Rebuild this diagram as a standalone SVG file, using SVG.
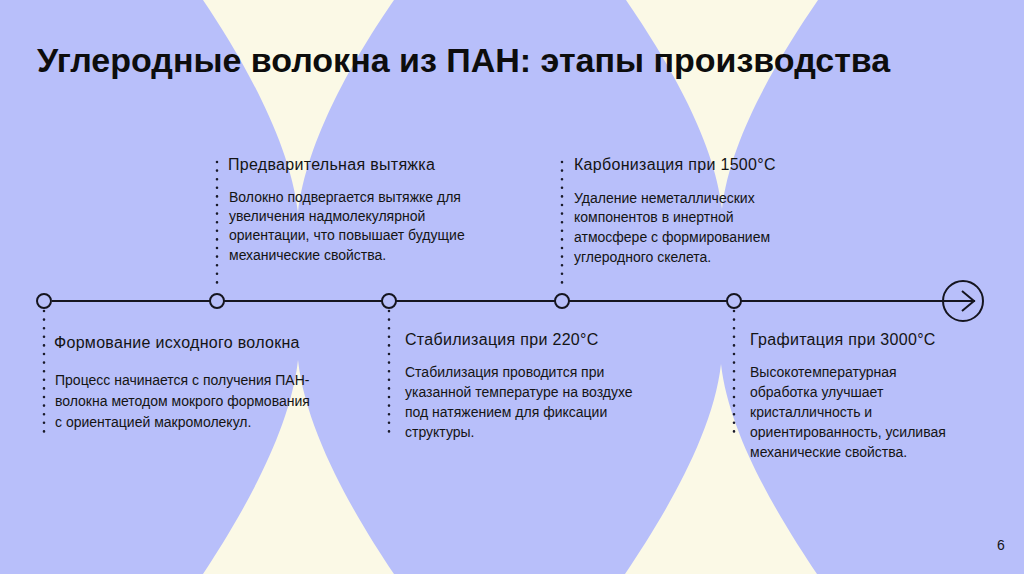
<svg xmlns="http://www.w3.org/2000/svg" width="1024" height="574" viewBox="0 0 1024 574">
<style>
.cream{fill:#fbf9e6}
.title{font-family:"Liberation Sans",Arial,sans-serif;font-weight:bold;font-size:34px;fill:#0d0d0d}
.h{font-family:"Liberation Sans",Arial,sans-serif;font-size:16px;letter-spacing:0.3px;fill:#141414}
.b{font-family:"Liberation Sans",Arial,sans-serif;font-size:14px;fill:#141414}
.dot{stroke:#1a1a2a;stroke-width:2.6;stroke-dasharray:0 8.6;stroke-linecap:round;fill:none}
.node{fill:#b8bffa;stroke:#15151f;stroke-width:2}
.line{stroke:#15151f;stroke-width:2;fill:none}
.pg{font-family:"Liberation Sans",Arial,sans-serif;font-size:14px;fill:#141414}
</style>
<g id="background">
<rect width="1024" height="574" fill="#b8bffa"/>
<path class="cream" d="M203,0 C240,55 290,140 298,213 C306,140 356,55 394,0 Z"/>
<path class="cream" d="M626,0 C663,54 714,137 722,209 C730,137 781,54 818,0 Z"/>
<path class="cream" d="M203,574 C240,518 290,433 298,360 C306,433 356,518 394,574 Z"/>
<path class="cream" d="M625,574 C662,519 713,436 721,364 C729,436 780,519 817,574 Z"/>
</g>
<text class="title" x="37" y="72">Углеродные волокна из ПАН: этапы производства</text>
<g id="connectors">
<line class="line" x1="52" y1="301" x2="975" y2="301"/>
<polyline class="line" points="962,291 974,301 962,311"/>
<line class="dot" x1="217" y1="162" x2="217" y2="290"/>
<line class="dot" x1="562" y1="162" x2="562" y2="290"/>
<line class="dot" x1="44" y1="311" x2="44" y2="434"/>
<line class="dot" x1="389" y1="311" x2="389" y2="434"/>
<line class="dot" x1="734" y1="311" x2="734" y2="434"/>
</g>
<g id="n1">
<circle class="node" cx="44" cy="301" r="7"/>
<text class="h" x="54" y="348">Формование исходного волокна</text>
<text class="b" x="55" y="385">Процесс начинается с получения ПАН-</text>
<text class="b" x="55" y="406">волокна методом мокрого формования</text>
<text class="b" x="55" y="427">с ориентацией макромолекул.</text>
</g>
<g id="n2">
<circle class="node" cx="217" cy="301" r="7"/>
<text class="h" x="228" y="170">Предварительная вытяжка</text>
<text class="b" x="229" y="202">Волокно подвергается вытяжке для</text>
<text class="b" x="229" y="221">увеличения надмолекулярной</text>
<text class="b" x="229" y="240">ориентации, что повышает будущие</text>
<text class="b" x="229" y="260">механические свойства.</text>
</g>
<g id="n3">
<circle class="node" cx="389" cy="301" r="7"/>
<text class="h" x="405" y="345">Стабилизация при 220°C</text>
<text class="b" x="405" y="377">Стабилизация проводится при</text>
<text class="b" x="405" y="397">указанной температуре на воздухе</text>
<text class="b" x="405" y="417">под натяжением для фиксации</text>
<text class="b" x="405" y="437">структуры.</text>
</g>
<g id="n4">
<circle class="node" cx="562" cy="301" r="7"/>
<text class="h" x="574" y="170">Карбонизация при 1500°C</text>
<text class="b" x="574" y="203">Удаление неметаллических</text>
<text class="b" x="574" y="222">компонентов в инертной</text>
<text class="b" x="574" y="242">атмосфере с формированием</text>
<text class="b" x="574" y="262">углеродного скелета.</text>
</g>
<g id="n5">
<circle class="node" cx="734" cy="301" r="7"/>
<text class="h" x="750" y="345">Графитация при 3000°C</text>
<text class="b" x="750" y="377">Высокотемпературная</text>
<text class="b" x="750" y="397">обработка улучшает</text>
<text class="b" x="750" y="417">кристалличность и</text>
<text class="b" x="750" y="437">ориентированность, усиливая</text>
<text class="b" x="750" y="457">механические свойства.</text>
</g>
<g id="end">
<circle cx="963" cy="301" r="20" fill="none" stroke="#15151f" stroke-width="2"/>
</g>
<text class="pg" x="997" y="550">6</text>
</svg>
